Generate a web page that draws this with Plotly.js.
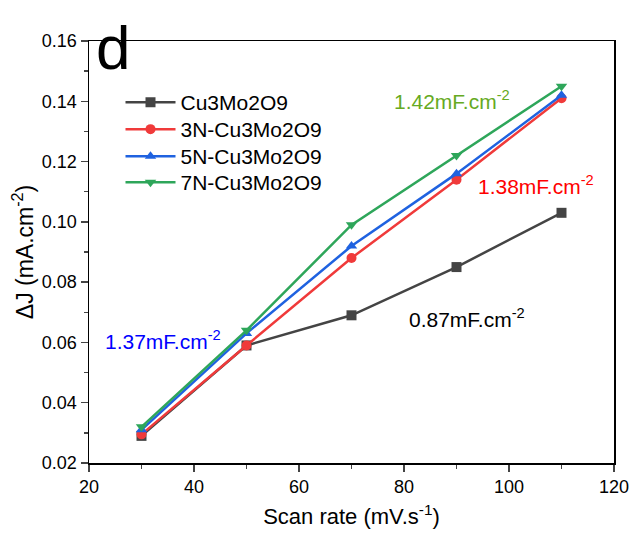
<!DOCTYPE html>
<html><head><meta charset="utf-8">
<script src="https://cdn.plot.ly/plotly-3.0.1.min.js"></script>
<style>body{margin:0;background:#fff}#c{width:632px;height:535px}</style>
</head><body><div id="c"></div>
<script>
const scanRate = [30, 50, 70, 90, 110];
const cu3mo2o9 = [0.029, 0.059, 0.069, 0.085, 0.103];
const n3 = [0.0295, 0.059, 0.088, 0.114, 0.141];
const n5 = [0.031, 0.063, 0.092, 0.116, 0.142];
const n7 = [0.032, 0.064, 0.099, 0.122, 0.145];
const names = ['Cu3Mo2O9', '3N-Cu3Mo2O9', '5N-Cu3Mo2O9', '7N-Cu3Mo2O9'];
const capLabels = ['0.87mF.cm<sup>-2</sup>', '1.38mF.cm<sup>-2</sup>', '1.37mF.cm<sup>-2</sup>', '1.42mF.cm<sup>-2</sup>'];

const colors = ['#444444', '#f03a3a', '#1f62e0', '#2ea65a'];
const symbols = ['square', 'circle', 'triangle-up', 'triangle-down'];
const series = [cu3mo2o9, n3, n5, n7];
const legendIds = ['legend', 'legend2', 'legend3', 'legend4'];
const traces = series.map((ys, i) => ({
  x: scanRate, y: ys, name: names[i], type: 'scatter', mode: 'lines+markers',
  legend: legendIds[i],
  line: {color: colors[i], width: 2.5},
  marker: {color: colors[i], symbol: symbols[i], size: 10}
}));

const font = 'Arial, "Liberation Sans", sans-serif';
const legendRowY = [0.9028, 0.8389, 0.7749, 0.7133];
const mkLegend = (y) => ({x: 0.06, y: y, xanchor: 'left', yanchor: 'top', bgcolor: 'rgba(0,0,0,0)',
  font: {size: 21, family: font}, itemwidth: 50});
const layout = {
  width: 632, height: 535,
  margin: {l: 89, r: 18, t: 41, b: 72},
  paper_bgcolor: '#fff', plot_bgcolor: '#fff',
  font: {family: font, color: '#000', size: 18},
  showlegend: true,
  legend: mkLegend(legendRowY[0]),
  legend2: mkLegend(legendRowY[1]),
  legend3: mkLegend(legendRowY[2]),
  legend4: mkLegend(legendRowY[3]),
  xaxis: {range: [20, 120], dtick: 20, tick0: 20, ticks: 'outside', ticklen: 7, tickwidth: 1.5,
          showline: true, linewidth: 1.5, linecolor: '#000', mirror: true, showgrid: false, zeroline: false,
          minor: {dtick: 10, ticks: 'outside', ticklen: 4, tickwidth: 1.5, showgrid: false},
          tickfont: {size: 18}, title: {text: 'Scan rate (mV.s<sup>-1</sup>)', font: {size: 22}, standoff: 12}},
  yaxis: {range: [0.02, 0.16], dtick: 0.02, tick0: 0.02, tickformat: '.2f', ticks: 'outside', ticklen: 7, tickwidth: 1.5,
          showline: true, linewidth: 1.5, linecolor: '#000', mirror: true, showgrid: false, zeroline: false,
          minor: {dtick: 0.01, ticks: 'outside', ticklen: 4, tickwidth: 1.5, showgrid: false},
          tickfont: {size: 18}, title: {text: 'ΔJ (mA.cm<sup>-2</sup>)', font: {size: 23}, standoff: 2}},
  annotations: [
    {xref: 'paper', yref: 'paper', x: 0.01, y: 1.07, xanchor: 'left', yanchor: 'top', text: 'd',
     showarrow: false, font: {size: 62, color: '#000', family: font}},
    {xref: 'x', yref: 'y', x: 92, y: 0.0681, text: capLabels[0], showarrow: false, font: {size: 21, color: '#000'}},
    {xref: 'x', yref: 'y', x: 105.1, y: 0.1122, text: capLabels[1], showarrow: false, font: {size: 21, color: '#ff0000'}},
    {xref: 'x', yref: 'y', x: 34.1, y: 0.0608, text: capLabels[2], showarrow: false, font: {size: 21, color: '#0000ff'}},
    {xref: 'x', yref: 'y', x: 89.1, y: 0.1404, text: capLabels[3], showarrow: false, font: {size: 21, color: '#66aa22'}}
  ]
};
Plotly.newPlot('c', traces, layout, {displayModeBar: false, staticPlot: true});
</script></body></html>
